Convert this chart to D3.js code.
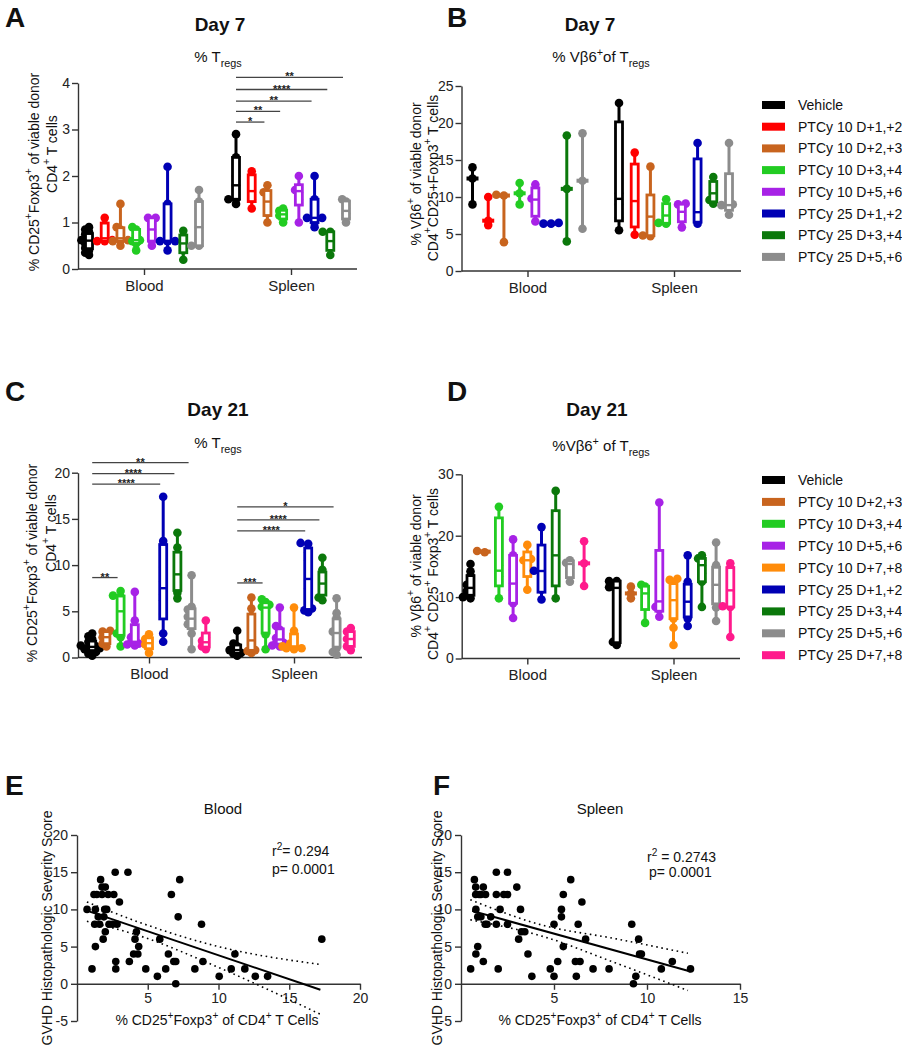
<!DOCTYPE html>
<html><head><meta charset="utf-8">
<script src="https://cdn.jsdelivr.net/npm/d3@7"></script>
<style>
body{margin:0;background:#fff;}
svg{font-family:Arial,"Liberation Sans",Helvetica,sans-serif;display:block;}
</style></head><body>
<svg id="chart" width="902" height="1050"></svg>
<script>
// ---------------- DATA ----------------
const tissues = ["Blood", "Spleen"];
const groupsDay7 = ["Vehicle","PTCy 10 D+1,+2","PTCy 10 D+2,+3","PTCy 10 D+3,+4","PTCy 10 D+5,+6","PTCy 25 D+1,+2","PTCy 25 D+3,+4","PTCy 25 D+5,+6"];
const colorsDay7 = ["#000000","#ff0000","#c8641e","#22cc22","#a722e6","#0000b4","#0b780b","#8c8c8c"];
const groupsDay21 = ["Vehicle","PTCy 10 D+2,+3","PTCy 10 D+3,+4","PTCy 10 D+5,+6","PTCy 10 D+7,+8","PTCy 25 D+1,+2","PTCy 25 D+3,+4","PTCy 25 D+5,+6","PTCy 25 D+7,+8"];
const colorsDay21 = ["#000000","#c8641e","#22cc22","#a722e6","#ff8c0a","#0000b4","#0b780b","#8c8c8c","#ff1a8c"];

// A: Day 7 % Tregs
const tregD7Blood = [
 [0.3,0.35,0.4,0.45,0.5,0.55,0.6,0.62,0.65,0.7,0.75,0.8,0.85,0.9],
 [0.6,0.6,0.62,0.7,0.95,1.1],
 [0.5,0.6,0.6,0.62,0.7,0.85,0.9,1.4],
 [0.4,0.55,0.6,0.62,0.72,0.85,0.9],
 [0.5,0.6,0.7,0.85,1.05,1.1,1.1],
 [0.4,0.6,0.6,0.6,0.6,1.4,2.2],
 [0.2,0.4,0.5,0.6,0.7,0.82],
 [0.5,0.5,0.62,0.9,1.3,1.45,1.7]
];
const tregD7Spleen = [
 [1.4,1.5,1.5,1.8,2.0,2.4,2.9],
 [1.3,1.5,1.6,1.75,2.0,2.1],
 [1.0,1.2,1.3,1.6,1.65,1.8],
 [1.0,1.1,1.15,1.2,1.25,1.3],
 [1.0,1.5,1.65,1.7,1.75,2.0],
 [0.9,1.0,1.1,1.1,1.1,1.5,2.0],
 [0.3,0.5,0.6,0.8,0.8],
 [1.0,1.1,1.2,1.3,1.45,1.5]
];
const yTicksA = [0,1,2,3,4];
const sigA = [
 ["Spleen","PTCy 10 D+2,+3",3.16,"*"],
 ["Spleen","PTCy 10 D+3,+4",3.39,"**"],
 ["Spleen","PTCy 25 D+1,+2",3.61,"**"],
 ["Spleen","PTCy 25 D+3,+4",3.86,"****"],
 ["Spleen","PTCy 25 D+5,+6",4.12,"**"]
];

// B: Day 7 % Vb6+ of Tregs
const vb6D7Blood = [
 [9.0,12.5,14.0],
 [6.2,6.8,10.0],
 [3.9,10.2,10.3],
 [9.0,10.5,11.9],
 [6.7,9.5,9.8,11.7],
 [6.4,6.4,6.5],
 [4.0,11.1,18.3],
 [5.7,12.2,18.6]
];
const vb6D7Spleen = [
 [5.5,7.2,9.0,10.5,19.3,22.7],
 [4.9,9.1,9.8,16.0],
 [4.7,4.8,6.9,7.8,9.0,14.1],
 [6.4,6.5,7.5,8.5,9.7],
 [5.9,6.9,7.5,8.5,9.0,9.1],
 [6.4,7.2,8.7,17.3],
 [9.1,9.6,10.5,11.5,12.7],
 [7.6,8.8,8.9,9.0,17.3]
];
const yTicksB = [0,5,10,15,20,25];

// C: Day 21 % Tregs
const tregD21Blood = [
 [0.2,0.4,0.6,0.8,0.9,1.0,1.1,1.2,1.3,1.5,1.7,2.0,2.3,2.6],
 [1.2,1.5,1.8,2.2,2.5,2.8,2.9],
 [1.2,2.2,2.6,3.5,5.0,5.8,6.6,6.7,7.2],
 [1.3,1.4,1.5,1.6,1.8,2.2,4.0,7.1],
 [0.5,1.1,1.4,1.7,2.0,2.5],
 [1.7,2.6,4.7,6.2,6.8,8.2,9.8,12.1,12.6,17.4],
 [6.4,7.0,7.5,8.5,9.0,10.0,10.9,11.9,13.5],
 [0.9,2.6,3.3,3.6,4.0,4.4,4.8,5.2,5.5,8.9],
 [0.9,1.2,1.5,1.8,2.2,4.0]
];
const tregD21Spleen = [
 [0.2,0.4,0.5,0.7,0.8,1.0,1.2,1.5,2.9],
 [0.5,0.7,0.8,1.0,1.5,2.2,3.0,4.5,5.3,6.5],
 [0.9,2.5,3.1,5.3,5.5,5.7,6.0,6.3],
 [1.2,1.3,1.5,1.6,1.8,2.1,2.5,3.0,3.4,5.4],
 [0.9,1.0,1.0,1.1,1.2,1.5,2.2,2.9,5.4],
 [4.9,5.1,5.3,7.5,8.5,10.5,11.4,12.3,12.4],
 [6.2,6.5,7.0,7.5,8.0,8.5,9.0,9.5,10.8],
 [0.3,0.6,1.0,1.5,2.0,2.5,2.8,3.2,3.8,4.3,4.8,6.4],
 [0.8,1.2,1.6,2.0,2.4,2.8,3.2]
];
const yTicksC = [0,5,10,15,20];
const sigC = [
 ["Blood","PTCy 10 D+3,+4",8.65,"**"],
 ["Blood","PTCy 25 D+1,+2",18.77,"****"],
 ["Blood","PTCy 25 D+3,+4",19.9,"****"],
 ["Blood","PTCy 25 D+5,+6",21.1,"**"],
 ["Spleen","PTCy 10 D+3,+4",8.07,"***"],
 ["Spleen","PTCy 25 D+1,+2",13.7,"****"],
 ["Spleen","PTCy 25 D+3,+4",14.9,"****"],
 ["Spleen","PTCy 25 D+5,+6",16.3,"*"]
];

// D: Day 21 % Vb6+ of Tregs
const vb6D21Blood = [
 [9.8,10.0,10.3,10.6,11.0,11.5,12.0,12.5,13.5,14.2,15.4],
 [17.3,17.5],
 [9.8,12.5,13.4,15.2,22.3,24.7],
 [6.6,9.0,11.1,12.2,14.5,16.8,19.4],
 [11.2,15.5,16.0,16.2,18.5],
 [9.6,11.2,14.2,14.3,17.5,21.4],
 [9.8,12.5,13.6,20.0,23.0,27.3],
 [12.5,15.2,15.6,16.0],
 [11.8,15.5,19.1]
];
const vb6D21Spleen = [
 [2.2,2.7,11.4,11.6,12.6,12.6],
 [9.8,10.6,11.7],
 [5.8,8.7,10.2,11.0,11.7,12.0],
 [6.8,8.0,8.4,10.2,15.0,25.4],
 [2.2,5.0,6.5,7.5,8.5,9.5,10.5,11.5,12.2,12.8,13.0],
 [5.3,6.5,7.6,8.7,9.8,10.9,12.5,16.8],
 [8.4,12.5,13.9,15.2,16.0,16.3,16.8],
 [6.1,8.3,9.5,11.0,12.0,13.0,14.5,15.2,18.9],
 [3.5,8.4,8.5,11.1,12.0,14.8,15.5]
];
const yTicksD = [0,10,20,30];

// E: Blood correlation
const bloodX = [0.71,1.06,1.67,1.2,1.4,1.3,1.25,1.3,1.5,1.77,1.77,1.9,1.6,1.85,2.0,2.0,1.96,2.1,2.2,2.26,2.5,2.7,2.6,2.74,2.74,2.83,3.0,3.6,3.7,4.0,4.2,4.1,4.3,4.36,4.86,5.68,5.85,6.27,6.46,6.67,6.84,6.98,6.98,7.15,7.26,8.33,8.8,8.9,10.05,10.9,11.16,11.86,12.6,13.47,17.3];
const bloodY = [10,2,14,12,12,10,8,5,9,12,13,9,8,6,7,13,10,10,12,8,8,15,12,3,2,8,11,15,3,4,7,6,4,5,2,1,6,2,4,12,3,3,0,9,14,2,8,3,1,2,4,2,1,1,6];
const bloodFitX = [0.9, 17.2];
const bloodFitY = [9.7, -0.8];
const bloodBandX = [0.7, 4.5, 10, 17.2];
const bloodBandUpper = [11.0, 8.2, 5.0, 2.6];
const bloodBandLower = [8.4, 6.4, 2.2, -4.1];
const xTicksE = [5,10,15,20];

// F: Spleen correlation
const spleenX = [0.52,0.72,0.79,0.79,0.8,0.8,0.9,0.97,1.07,1.32,1.2,0.9,1.07,1.2,1.3,1.4,1.6,1.9,1.9,2.0,1.9,2.1,2.3,2.5,2.5,2.5,3.0,3.1,3.2,3.25,3.43,3.6,3.81,4.8,5.0,5.0,5.2,5.4,5.4,5.5,5.5,5.9,6.2,6.3,6.15,6.4,6.5,6.7,7.1,7.96,9.18,9.27,9.4,9.55,9.6,9.7,10.77,11.36,12.34];
const spleenY = [2,14,13,12,10,4,5,12,12,12,13,9,9,3,8,8,9,15,12,2,8,10,12,12,15,8,13,6,10,7,7,4,1,2,8,1,3,10,9,5,12,14,1,8,3,3,11,6,2,2,8,0,1,6,4,4,2,3,2];
const spleenFitX = [0.6, 12.34];
const spleenFitY = [9.8, 1.65];
const spleenBandX = [0.5, 4.5, 8, 12.2];
const spleenBandUpper = [11.3, 7.8, 6.2, 4.1];
const spleenBandLower = [8.6, 6.3, 3.1, -0.9];
const xTicksF = [5,10,15];
const yTicksEF = [-5,0,5,10,15,20];

// ---------------- DRAWING ----------------
const svg = d3.select("#chart");
const AX = "#333";
const fmt = d => String(d);

function rich(textSel, parts, fs) {
  let shift = 0;
  parts.forEach(([t, k]) => {
    const ts = textSel.append("tspan").text(t);
    const target = k === "sup" ? -0.42 * fs : k === "sub" ? 0.3 * fs : 0;
    ts.attr("dy", target - shift);
    shift = target;
    if (k) ts.attr("font-size", 0.72 * fs);
  });
}
function label(x, y, parts, fs, opts = {}) {
  const t = svg.append("text")
    .attr("text-anchor", opts.anchor || "middle")
    .attr("font-size", fs)
    .attr("font-weight", opts.bold ? "bold" : "normal")
    .attr("fill", "#111");
  if (opts.rotate) {
    t.attr("transform", `translate(${x},${y}) rotate(-90)`).attr("dominant-baseline", "central");
  } else {
    t.attr("x", x).attr("y", y);
  }
  rich(t, typeof parts === "string" ? [[parts, ""]] : parts, fs);
  return t;
}
function styleAxis(sel, fs) {
  sel.selectAll(".domain").attr("stroke", AX).attr("stroke-width", 1.4);
  sel.selectAll(".tick line").attr("stroke", AX).attr("stroke-width", 1.4);
  sel.selectAll(".tick text").attr("font-size", fs).attr("fill", "#222")
    .attr("font-family", "Arial, 'Liberation Sans', sans-serif");
}
function gpQuantile(s, p) {
  const n = s.length;
  let pos = p * (n + 1);
  pos = Math.max(1, Math.min(n, pos));
  const lo = Math.floor(pos), hi = Math.ceil(pos);
  return s[lo - 1] + (pos - lo) * (s[hi - 1] - s[lo - 1]);
}
function swarm(vals, y, step, thr) {
  const placed = [];
  vals.forEach(v => {
    const cy = y(v);
    for (const k of [0, -1, 1, -2, 2, -3, 3]) {
      const dx = k * step;
      if (placed.every(p => Math.hypot(p.dx - dx, p.cy - cy) >= thr)) { placed.push({dx, cy}); return; }
    }
    placed.push({dx: 0, cy});
  });
  return placed;
}

function boxPanel(o) {
  const y = d3.scaleLinear().domain(o.yDomain).range([o.yBottom, o.yTop]);
  const x = d3.scalePoint().domain(tissues).range(o.tissueX);
  const sub = d3.scalePoint().domain(o.groups).range([-o.half, o.half]);
  const color = d3.scaleOrdinal().domain(o.groups).range(o.colors);
  const g = svg.append("g");

  const ya = g.append("g").attr("transform", `translate(${o.xLeft},0)`)
    .call(d3.axisLeft(y).tickValues(o.yTicks).tickFormat(fmt).tickSize(6).tickSizeOuter(0).tickPadding(2));
  styleAxis(ya, 14);
  const xa = g.append("g").attr("transform", `translate(0,${o.yBottom})`)
    .call(d3.axisBottom(x).tickSize(6).tickPadding(5));
  xa.select(".domain").remove();
  styleAxis(xa, 15);
  g.append("line").attr("x1", o.xLeft).attr("x2", o.xRight)
    .attr("y1", o.yBottom).attr("y2", o.yBottom).attr("stroke", AX).attr("stroke-width", 1.4);

  const bw = 7;
  tissues.forEach((t, ti) => {
    o.groups.forEach((gn, gi) => {
      const vals = o.data[ti][gi].slice().sort(d3.ascending);
      const n = vals.length;
      const cx = x(t) + sub(gn);
      const col = color(gn);
      const gg = g.append("g");
      const pts = swarm(vals, y, 3.8, 4);
      gg.selectAll("circle").data(pts).join("circle")
        .attr("cx", d => cx + d.dx).attr("cy", d => d.cy).attr("r", 4.3).attr("fill", col);
      gg.append("line").attr("x1", cx).attr("x2", cx)
        .attr("y1", y(vals[0])).attr("y2", y(vals[n - 1]))
        .attr("stroke", col).attr("stroke-width", 3);
      const med = d3.median(vals);
      if (n >= 4) {
        const q1 = gpQuantile(vals, 0.25), q3 = gpQuantile(vals, 0.75);
        gg.append("rect").attr("x", cx - bw / 2).attr("width", bw)
          .attr("y", y(q3)).attr("height", Math.max(1, y(q1) - y(q3)))
          .attr("fill", "#fff").attr("stroke", col).attr("stroke-width", 2.8);
        gg.append("line").attr("x1", cx - bw / 2).attr("x2", cx + bw / 2)
          .attr("y1", y(med)).attr("y2", y(med)).attr("stroke", col).attr("stroke-width", 2.4);
      } else {
        gg.append("rect").attr("x", cx - 6).attr("width", 12)
          .attr("y", y(med) - 2).attr("height", 4).attr("fill", col);
      }
    });
  });

  (o.sig || []).forEach(([t, gn, v, s]) => {
    const x1 = x(t) + sub(o.groups[0]);
    const x2 = x(t) + sub(gn) - 3;
    g.append("line").attr("x1", x1).attr("x2", x2).attr("y1", y(v)).attr("y2", y(v))
      .attr("stroke", "#444").attr("stroke-width", 1.3);
    g.append("text").attr("x", (x1 + x2) / 2).attr("y", y(v) + 3)
      .attr("text-anchor", "middle").attr("font-size", 11).attr("font-weight", "bold")
      .attr("fill", "#222").text(s);
  });
}

function legend(x0, y0, step, groups, colors) {
  groups.forEach((gn, i) => {
    const yy = y0 + i * step;
    svg.append("rect").attr("x", x0).attr("y", yy - 4).attr("width", 23).attr("height", 8).attr("fill", colors[i]);
    svg.append("text").attr("x", x0 + 36).attr("y", yy).attr("dominant-baseline", "central")
      .attr("font-size", 14).attr("fill", "#111").text(gn);
  });
}

// Panel A
boxPanel({groups: groupsDay7, colors: colorsDay7, data: [tregD7Blood, tregD7Spleen],
  yDomain: [0, 4], yTop: 83, yBottom: 269, yTicks: yTicksA,
  xLeft: 78, xRight: 357, tissueX: [144, 291], half: 55, sig: sigA});
label(5, 27, "A", 28, {anchor: "start", bold: true});
label(220, 31, "Day 7", 19, {bold: true});
label(218, 62, [["% T", ""], ["regs", "sub"]], 15);
label(34, 172, [["% CD25", ""], ["+", "sup"], ["Foxp3", ""], ["+", "sup"], [" of viable donor", ""]], 14, {rotate: true});
label(52, 154, [["CD4", ""], ["+", "sup"], [" T cells", ""]], 14, {rotate: true});

// Panel B
boxPanel({groups: groupsDay7, colors: colorsDay7, data: [vb6D7Blood, vb6D7Spleen],
  yDomain: [0, 25], yTop: 86, yBottom: 271, yTicks: yTicksB,
  xLeft: 461.5, xRight: 741, tissueX: [527.5, 674], half: 55});
label(447, 27, "B", 28, {anchor: "start", bold: true});
label(590, 31, "Day 7", 19, {bold: true});
label(601, 62, [["% Vβ6", ""], ["+", "sup"], ["of T", ""], ["regs", "sub"]], 15);
label(416, 174, [["% Vβ6", ""], ["+", "sup"], [" of viable donor", ""]], 14, {rotate: true});
label(433, 178, [["CD4", ""], ["+", "sup"], ["CD25+Foxp3", ""], ["+", "sup"], [" T cells", ""]], 14, {rotate: true});
legend(762, 105, 21.7, groupsDay7, colorsDay7);

// Panel C
boxPanel({groups: groupsDay21, colors: colorsDay21, data: [tregD21Blood, tregD21Spleen],
  yDomain: [0, 20], yTop: 472.7, yBottom: 657.5, yTicks: yTicksC,
  xLeft: 78, xRight: 362, tissueX: [149, 294], half: 56.8, sig: sigC});
label(5, 401, "C", 28, {anchor: "start", bold: true});
label(218, 416, "Day 21", 19, {bold: true});
label(218, 448, [["% T", ""], ["regs", "sub"]], 15);
label(32, 563, [["% CD25", ""], ["+", "sup"], ["Foxp3", ""], ["+", "sup"], ["  of viable donor", ""]], 14, {rotate: true});
label(51, 533, [["CD4", ""], ["+", "sup"], [" T cells", ""]], 14, {rotate: true});

// Panel D
boxPanel({groups: groupsDay21, colors: colorsDay21, data: [vb6D21Blood, vb6D21Spleen],
  yDomain: [0, 30], yTop: 474.3, yBottom: 658.5, yTicks: yTicksD,
  xLeft: 461.7, xRight: 740, tissueX: [527.3, 673.5], half: 56.8});
label(447, 401, "D", 28, {anchor: "start", bold: true});
label(597, 416, "Day 21", 19, {bold: true});
label(601, 451, [["%Vβ6", ""], ["+", "sup"], [" of T", ""], ["regs", "sub"]], 15);
label(416, 566, [["% Vβ6", ""], ["+", "sup"], [" of viable donor", ""]], 14, {rotate: true});
label(433, 574, [["CD4", ""], ["+", "sup"], [" CD25", ""], ["+", "sup"], [" Foxp3", ""], ["+", "sup"], [" T cells", ""]], 14, {rotate: true});
legend(762, 480, 21.9, groupsDay21, colorsDay21);

// Scatter panels
function scatterPanel(o) {
  const x = d3.scaleLinear().domain(o.xDomain).range([o.xLeft, o.xRight]);
  const y = d3.scaleLinear().domain([-5, 20]).range([1021, 835]);
  const g = svg.append("g");
  const ya = g.append("g").attr("transform", `translate(${o.xLeft},0)`)
    .call(d3.axisLeft(y).tickValues(yTicksEF).tickFormat(fmt).tickSize(6).tickSizeOuter(0).tickPadding(3));
  styleAxis(ya, 14);
  const xa = g.append("g").attr("transform", `translate(0,${y(0)})`)
    .call(d3.axisBottom(x).tickValues(o.xTicks).tickFormat(fmt).tickSize(6).tickSizeOuter(0).tickPadding(3));
  styleAxis(xa, 14);
  const pts = o.xs.map((v, i) => [v, o.ys[i]]);
  g.selectAll("circle.pt").data(pts).join("circle").attr("class", "pt")
    .attr("cx", d => x(d[0])).attr("cy", d => y(d[1])).attr("r", 3.8).attr("fill", "#000");
  const line = d3.line().x(d => x(d[0])).y(d => y(d[1]));
  g.append("path").attr("d", line(o.fitX.map((v, i) => [v, o.fitY[i]])))
    .attr("stroke", "#000").attr("stroke-width", 2).attr("fill", "none");
  const curve = d3.line().x(d => x(d[0])).y(d => y(d[1])).curve(d3.curveMonotoneX);
  [o.bandU, o.bandL].forEach(arr => {
    g.append("path").attr("d", curve(o.bandX.map((v, i) => [v, arr[i]])))
      .attr("stroke", "#000").attr("stroke-width", 1.6).attr("fill", "none")
      .attr("stroke-dasharray", "1.6,3.6");
  });
}

scatterPanel({xDomain: [0, 20], xLeft: 77, xRight: 360, xTicks: xTicksE, xs: bloodX, ys: bloodY,
  fitX: bloodFitX, fitY: bloodFitY, bandX: bloodBandX, bandU: bloodBandUpper, bandL: bloodBandLower});
label(5, 795, "E", 28, {anchor: "start", bold: true});
label(223, 814, "Blood", 15);
label(272, 856, [["r", ""], ["2", "sup"], ["= 0.294", ""]], 14, {anchor: "start"});
label(272, 874, "p= 0.0001", 14, {anchor: "start"});
label(217, 1025, [["% CD25", ""], ["+", "sup"], ["Foxp3", ""], ["+", "sup"], [" of CD4", ""], ["+", "sup"], [" T Cells", ""]], 14);
label(47, 928, "GVHD Histopathologic Severity Score", 14, {rotate: true});

scatterPanel({xDomain: [0, 15], xLeft: 461, xRight: 740, xTicks: xTicksF, xs: spleenX, ys: spleenY,
  fitX: spleenFitX, fitY: spleenFitY, bandX: spleenBandX, bandU: spleenBandUpper, bandL: spleenBandLower});
label(433, 795, "F", 28, {anchor: "start", bold: true});
label(600, 814, "Spleen", 15);
label(647, 862, [["r", ""], ["2", "sup"], [" =  0.2743", ""]], 14, {anchor: "start"});
label(649, 877, "p= 0.0001", 14, {anchor: "start"});
label(600, 1025, [["% CD25", ""], ["+", "sup"], ["Foxp3", ""], ["+", "sup"], [" of CD4", ""], ["+", "sup"], [" T Cells", ""]], 14);
label(437, 928, "GVHD Histopathologic Severity Score", 14, {rotate: true});
</script>
</body></html>
